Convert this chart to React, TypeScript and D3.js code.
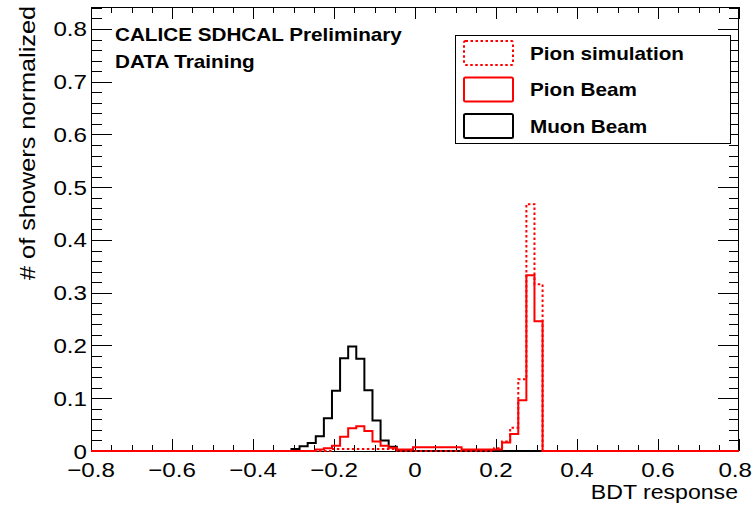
import React from "react";
import * as d3 from "d3";

// ---- data ----
const binWidth = 0.02;
const histLow = -0.805;
const histHigh = 0.815;

// Muon beam (black) : first bin low edge + values
const muonStart = -0.305;
const muonValues = [0.004, 0.009, 0.015, 0.028, 0.062, 0.114, 0.176, 0.198, 0.175, 0.115, 0.058, 0.020, 0.008, 0.002];

// Pion beam (red, solid)
const pionStart = -0.245;
const pionValues = [
  0.003, 0.005, 0.010, 0.027, 0.043, 0.047, 0.038, 0.018, 0.010, 0.006, 0.003, 0.003,
  0.007, 0.007, 0.007, 0.007, 0.007, 0.007, 0.003, 0.003, 0.003, 0.003, 0.003,
  0.016, 0.032, 0.096, 0.333, 0.246,
];

// Pion simulation (red, dotted)
const simStart = -0.205;
const simValues = [
  0.004, 0.004, 0.004, 0.004, 0.004, 0.004, 0.004, 0.004, 0.0, 0.0, 0.0,
  0.0, 0.0, 0.0, 0.0, 0.0, 0.0, 0.0, 0.0, 0.0, 0.005,
  0.018, 0.044, 0.136, 0.468, 0.316,
];

const xTicks = [-0.8, -0.6, -0.4, -0.2, 0, 0.2, 0.4, 0.6, 0.8];
const xTickLabels = ["\u22120.8", "\u22120.6", "\u22120.4", "\u22120.2", "0", "0.2", "0.4", "0.6", "0.8"];
const yTicks = [0, 0.1, 0.2, 0.3, 0.4, 0.5, 0.6, 0.7, 0.8];
const yTickLabels = ["0", "0.1", "0.2", "0.3", "0.4", "0.5", "0.6", "0.7", "0.8"];

const legendLabels = ["Pion simulation", "Pion Beam", "Muon Beam"];
const titleLines = ["CALICE SDHCAL Preliminary", "DATA Training"];
const xTitle = "BDT response";
const yTitle = "# of showers normalized";

// ---- layout ----
const W = 753, H = 508;
const L = 91, R = 739, T = 7, B = 451;
const FONT = "'Liberation Sans', Arial, Helvetica, sans-serif";
const SX = 1.15;

const x = d3.scaleLinear().domain([-0.8, 0.8]).range([L, R]);
const y = d3.scaleLinear().domain([0, 0.8417]).range([B, T]);

function fullBins(start: number, values: number[]) {
  const n = Math.round((histHigh - histLow) / binWidth);
  const offset = Math.round((start - histLow) / binWidth);
  const arr: { lo: number; hi: number; v: number }[] = [];
  for (let i = 0; i < n; i++) {
    const lo = histLow + i * binWidth;
    const j = i - offset;
    const v = j >= 0 && j < values.length ? values[j] : 0;
    arr.push({ lo, hi: lo + binWidth, v });
  }
  return arr;
}

function stepPath(start: number, values: number[]) {
  const bins = fullBins(start, values);
  const pts: [number, number][] = [];
  bins.forEach((b) => {
    pts.push([x(b.lo), y(b.v)]);
    pts.push([x(b.hi), y(b.v)]);
  });
  return d3.line()(pts) || "";
}

function STxt(props: {
  x: number; y: number; size: number; anchor?: string; bold?: boolean; rotate?: number; children: string; sx?: number;
}) {
  const { size, anchor = "start", bold = false, rotate = 0, children, sx = SX } = props;
  return (
    <text
      transform={`translate(${props.x},${props.y}) rotate(${rotate}) scale(${sx},1)`}
      fontFamily={FONT}
      fontSize={size}
      fontWeight={bold ? "bold" : "normal"}
      textAnchor={anchor}
      fill="#000"
    >
      {children}
    </text>
  );
}

export default function App() {
  const xMinor = d3.range(-0.8, 0.8001, 0.05);
  const yMinor = d3.range(0, 0.8417, 0.02);

  const legendRows = [
    { label: legendLabels[0], color: "#ff0000", dash: "2.5 2.5" },
    { label: legendLabels[1], color: "#ff0000", dash: undefined },
    { label: legendLabels[2], color: "#000000", dash: undefined },
  ];

  return (
    <svg width={W} height={H} style={{ position: "absolute", left: 0, top: 0, background: "#fff" }}>
      <defs>
        <clipPath id="plotclip">
          <rect x={L} y={T} width={R - L} height={B - T + 2} />
        </clipPath>
      </defs>
      <rect x={0} y={0} width={W} height={H} fill="#fff" />

      {/* ticks */}
      <g stroke="#000" strokeWidth={1} shapeRendering="crispEdges">
        {xMinor.map((v, i) => {
          const major = Math.abs(Math.round(v * 5) - v * 5) < 1e-6;
          const len = major ? 12 : 6;
          const px = Math.round(x(v)) + 0.5;
          return (
            <g key={"xt" + i}>
              <line x1={px} x2={px} y1={B} y2={B - len} />
              <line x1={px} x2={px} y1={T} y2={T + len} />
            </g>
          );
        })}
        {yMinor.map((v, i) => {
          const major = Math.abs(Math.round(v * 10) - v * 10) < 1e-6;
          const len = major ? 21 : 10.5;
          const py = Math.round(y(v)) + 0.5;
          return (
            <g key={"yt" + i}>
              <line x1={L} x2={L + len} y1={py} y2={py} />
              <line x1={R} x2={R - len} y1={py} y2={py} />
            </g>
          );
        })}
      </g>

      {/* frame */}
      <rect x={L + 0.5} y={T + 0.5} width={R - L - 1} height={B - T} fill="none" stroke="#000" strokeWidth={1} />

      {/* histograms */}
      <g clipPath="url(#plotclip)" fill="none" strokeWidth={2}>
        <path d={stepPath(muonStart, muonValues)} stroke="#000" />
        <path d={stepPath(simStart, simValues)} stroke="#ff0000" strokeDasharray="2.5 2.5" />
        <path d={stepPath(pionStart, pionValues)} stroke="#ff0000" />
      </g>

      {/* tick labels */}
      {xTicks.map((v, i) => {
        const last = i === xTicks.length - 1;
        return (
          <STxt key={"xl" + i} x={last ? W - 1 : x(v)} y={477} size={21} anchor={last ? "end" : "middle"}>
            {xTickLabels[i]}
          </STxt>
        );
      })}
      {yTicks.map((v, i) => (
        <STxt key={"yl" + i} x={87} y={y(v) + 7.5} size={21} anchor="end">
          {yTickLabels[i]}
        </STxt>
      ))}

      {/* axis titles */}
      <STxt x={738} y={499} size={21} anchor="end" sx={1.1}>{xTitle}</STxt>
      <STxt x={35} y={6} size={22} anchor="end" rotate={-90}>{yTitle}</STxt>

      {/* header text */}
      <STxt x={115} y={41} size={18} bold>{titleLines[0]}</STxt>
      <STxt x={115} y={68} size={18} bold>{titleLines[1]}</STxt>

      {/* legend */}
      <rect x={455.5} y={35.5} width={275} height={108} fill="#fff" stroke="#000" strokeWidth={1} />
      {legendRows.map((r, i) => {
        const top = 40 + i * 36.5;
        return (
          <g key={"lg" + i}>
            <rect x={464} y={top + 1} width={49} height={24} rx={1.5} fill="none" stroke={r.color} strokeWidth={2} strokeDasharray={r.dash} />
            <STxt x={530} y={top + 19.5} size={18} bold>{r.label}</STxt>
          </g>
        );
      })}
    </svg>
  );
}
